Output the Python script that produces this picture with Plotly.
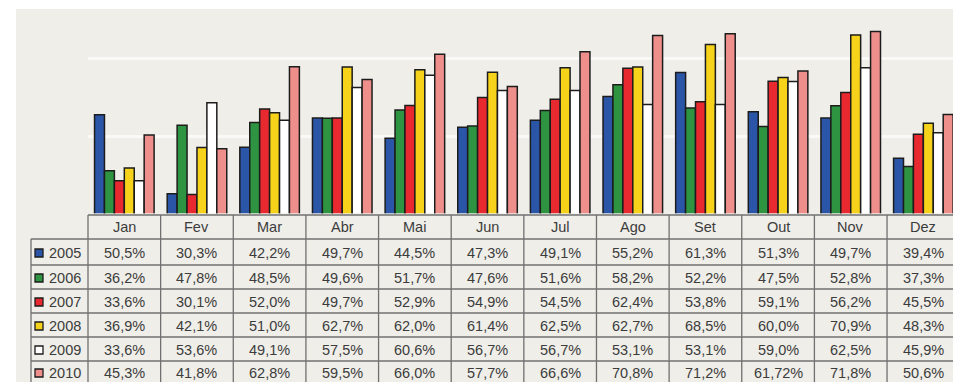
import plotly.graph_objects as go

months = ["Jan", "Fev", "Mar", "Abr", "Mai", "Jun", "Jul", "Ago", "Set", "Out", "Nov", "Dez"]
years = ["2005", "2006", "2007", "2008", "2009", "2010"]

v2005 = [50.5, 30.3, 42.2, 49.7, 44.5, 47.3, 49.1, 55.2, 61.3, 51.3, 49.7, 39.4]
v2006 = [36.2, 47.8, 48.5, 49.6, 51.7, 47.6, 51.6, 58.2, 52.2, 47.5, 52.8, 37.3]
v2007 = [33.6, 30.1, 52.0, 49.7, 52.9, 54.9, 54.5, 62.4, 53.8, 59.1, 56.2, 45.5]
v2008 = [36.9, 42.1, 51.0, 62.7, 62.0, 61.4, 62.5, 62.7, 68.5, 60.0, 70.9, 48.3]
v2009 = [33.6, 53.6, 49.1, 57.5, 60.6, 56.7, 56.7, 53.1, 53.1, 59.0, 62.5, 45.9]
v2010 = [45.3, 41.8, 62.8, 59.5, 66.0, 57.7, 66.6, 70.8, 71.2, 61.72, 71.8, 50.6]

series = [v2005, v2006, v2007, v2008, v2009, v2010]
colors = ["#2b56a8", "#2f9441", "#e8292f", "#f6d21a", "#ffffff", "#ef8f8c"]

W, H = 953, 382
def py(p):
    return 1 - p / H
def px(p):
    return p / W

# x axis geometry
xd0, xd1 = px(88), 1.0
colw = 72.64
xr0 = -0.5
xr1 = -0.5 + (W - 88) / colw
def cat_to_paper(c):
    return xd0 + (c - xr0) / (xr1 - xr0) * (xd1 - xd0)

fig = go.Figure()
for y, vals, col in zip(years, series, colors):
    fig.add_trace(go.Bar(x=months, y=vals, name=y, marker=dict(color=col, line=dict(color="#1c1c1c", width=1.5))))

shapes = []
# background panel
shapes.append(dict(type="rect", xref="paper", yref="paper", x0=px(16), x1=1, y0=0, y1=py(9),
                   fillcolor="#efeee9", line=dict(width=0), layer="below"))
lc = dict(color="#707070", width=1.3)
# header top
shapes.append(dict(type="line", xref="paper", yref="paper", x0=px(88), x1=1, y0=py(215), y1=py(215), line=lc))
for yy in [239, 265, 289, 313, 337, 361]:
    shapes.append(dict(type="line", xref="paper", yref="paper", x0=px(31), x1=1, y0=py(yy), y1=py(yy), line=lc))
for k in range(len(months)):
    xx = cat_to_paper(k - 0.5)
    shapes.append(dict(type="line", xref="paper", yref="paper", x0=xx, x1=xx, y0=py(215), y1=0, line=lc))
shapes.append(dict(type="line", xref="paper", yref="paper", x0=px(31), x1=px(31), y0=py(239), y1=0, line=lc))

row_centers = [253, 278, 302, 326, 350, 373]
font = dict(family="Liberation Sans, Arial, sans-serif", size=14.5, color="#3c3c3c")
annotations = []
for m in months:
    annotations.append(dict(x=m, xref="x", y=py(227), yref="paper", text=m, showarrow=False, font=font,
                            xanchor="center", yanchor="middle"))
for yr, vals, col, rc in zip(years, series, colors, row_centers):
    shapes.append(dict(type="rect", xref="paper", yref="paper", x0=px(35), x1=px(43), y0=py(rc + 4), y1=py(rc - 4),
                       fillcolor=col, line=dict(color="#1c1c1c", width=1.3)))
    annotations.append(dict(x=px(47), xref="paper", y=py(rc), yref="paper", text=yr, showarrow=False, font=font,
                            xanchor="left", yanchor="middle"))
    for m, v in zip(months, vals):
        annotations.append(dict(x=m, xref="x", y=py(rc), yref="paper", text=str(v).replace(".", ",") + "%",
                                showarrow=False, font=font, xanchor="center", yanchor="middle"))

fig.update_layout(
    width=W, height=H, margin=dict(l=0, r=0, t=0, b=0),
    paper_bgcolor="white", plot_bgcolor="rgba(0,0,0,0)",
    barmode="group", bargap=0.18, bargroupgap=0,
    showlegend=False,
    xaxis=dict(domain=[xd0, xd1], range=[xr0, xr1], showticklabels=False, showgrid=False, zeroline=False,
               ticks="", showline=False),
    yaxis=dict(domain=[py(213.3), py(9)], range=[25.3, 77.55], tick0=5, dtick=20, showticklabels=False,
               showgrid=True, gridcolor="#f9f9f7", gridwidth=2.5, zeroline=False, ticks=""),
    shapes=shapes, annotations=annotations,
)
fig.write_html("out.html")
